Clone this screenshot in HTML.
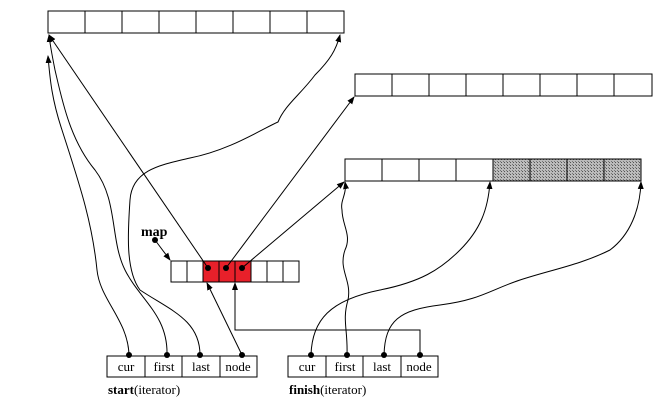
<!DOCTYPE html>
<html><head><style>
body{margin:0;background:#fff;}
svg{display:block;}
text{font-family:"Liberation Serif",serif;font-size:13px;fill:#000;}
</style></head><body>
<svg width="671" height="401" viewBox="0 0 671 401" xmlns="http://www.w3.org/2000/svg">
<defs>
<marker id="a" markerWidth="8" markerHeight="8" refX="7" refY="4" orient="auto" markerUnits="userSpaceOnUse">
<path d="M0,1 L8,4 L0,7 z" fill="#000"/></marker>
<pattern id="g" width="3" height="3" patternUnits="userSpaceOnUse">
<rect width="3" height="3" fill="#bbb"/><rect width="1" height="1" fill="#555"/><rect x="2" y="2" width="1" height="1" fill="#777"/></pattern>
</defs>
<g fill="none" stroke="#000" stroke-width="1">
<rect x="48" y="11" width="296" height="22"/>
<path d="M85,11v22M122,11v22M159,11v22M196,11v22M233,11v22M270,11v22M307,11v22"/>
<rect x="355" y="74" width="297" height="22"/>
<path d="M392,74v22M429,74v22M466,74v22M503,74v22M540,74v22M577,74v22M614,74v22"/>
<rect x="493" y="159" width="148" height="22" fill="url(#g)" stroke="none"/>
<rect x="345" y="159" width="296" height="22"/>
<path d="M382,159v22M419,159v22M456,159v22M493,159v22M530,159v22M567,159v22M604,159v22"/>
<rect x="203" y="261" width="48" height="21" fill="#e8202a" stroke="none"/>
<rect x="171" y="261" width="128" height="21"/>
<path d="M187,261v21M203,261v21M219,261v21M235,261v21M251,261v21M267,261v21M283,261v21"/>
<rect x="107" y="356" width="150" height="21"/>
<path d="M145,356v21M182,356v21M220,356v21"/>
<rect x="288" y="356" width="150" height="21"/>
<path d="M326,356v21M363,356v21M401,356v21"/>
</g>
<g fill="none" stroke="#000" stroke-width="1">
<path d="M155,240 L170,260" marker-end="url(#a)"/>
<path d="M208,268 L49,35" marker-end="url(#a)"/>
<path d="M226,268 L354,97" marker-end="url(#a)"/>
<path d="M242,268 L344,182" marker-end="url(#a)"/>
<path d="M242,355 L207,283" marker-end="url(#a)"/>
<path d="M420,355 V330 H235 V283" marker-end="url(#a)"/>
<path d="M129,355 C128,320 100,300 97,270 C92,220 78,180 62,130 C52,100 50,80 48,56" marker-end="url(#a)"/>
<path d="M167,355 C168,315 140,300 125,270 C110,240 118,200 95,170 C70,140 62,100 55,70 C52,55 50,45 49,35" marker-end="url(#a)"/>
<path d="M200,355 C200,320 170,310 140,290 C125,270 128,230 130,200 C132,170 160,165 190,158 C230,150 260,130 278,122 C285,105 300,95 315,75 C330,60 336,50 340,35" marker-end="url(#a)"/>
<path d="M311,355 C312,320 330,300 380,290 C420,282 440,270 460,250 C480,230 488,210 490,182" marker-end="url(#a)"/>
<path d="M347,355 C348,330 342,320 348,300 C352,280 338,270 345,250 C352,235 342,225 342,210 C340,200 347,195 345,182" marker-end="url(#a)"/>
<path d="M384,355 C385,320 400,310 440,305 C480,300 490,290 520,280 C550,270 580,265 610,250 C630,235 640,210 641,182" marker-end="url(#a)"/>
</g>
<g fill="#000">
<circle cx="155" cy="240" r="3"/>
<circle cx="208" cy="268" r="3"/><circle cx="226" cy="268" r="3"/><circle cx="242" cy="268" r="3"/>
<circle cx="129" cy="355" r="3"/><circle cx="167" cy="355" r="3"/><circle cx="200" cy="355" r="3"/><circle cx="242" cy="355" r="3"/>
<circle cx="311" cy="355" r="3"/><circle cx="347" cy="355" r="3"/><circle cx="384" cy="355" r="3"/><circle cx="420" cy="355" r="3"/>
</g>
<text x="141" y="236" font-weight="bold" style="font-size:14px">map</text>
<g text-anchor="middle">
<text x="126" y="371">cur</text><text x="164" y="371">first</text><text x="201" y="371">last</text><text x="238" y="371">node</text>
<text x="307" y="371">cur</text><text x="345" y="371">first</text><text x="382" y="371">last</text><text x="419" y="371">node</text>
</g>
<text x="108" y="394"><tspan font-weight="bold">start</tspan>(iterator)</text>
<text x="289" y="394"><tspan font-weight="bold">finish</tspan>(iterator)</text>
</svg>
</body></html>
